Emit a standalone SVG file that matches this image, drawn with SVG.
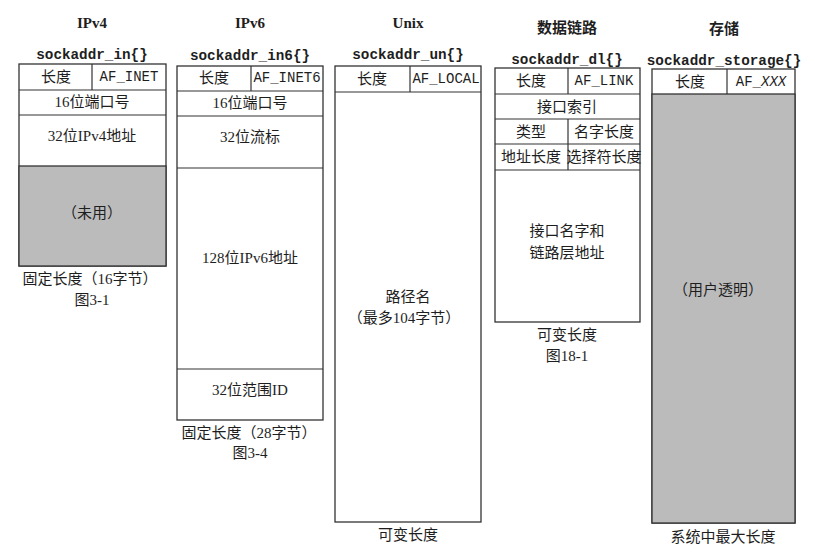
<svg xmlns="http://www.w3.org/2000/svg" width="815" height="560" viewBox="0 0 815 560">
<style>
.box{fill:#ffffff;stroke:#333333;stroke-width:1.3}
.gray{fill:#bbbbbb;stroke:#333333;stroke-width:1.3}
.ln{stroke:#333333;stroke-width:1.2;fill:none}
text{fill:#1e1e1e;text-anchor:middle;dominant-baseline:central}
.t{font-family:"Liberation Serif","Noto Sans CJK SC",serif;font-size:15px}
.h{font-family:"Liberation Serif","Noto Sans CJK SC",serif;font-size:15px;font-weight:bold}
.s{font-family:"Liberation Mono",monospace;font-size:14.3px;font-weight:bold}
.m{font-family:"Liberation Mono",monospace;font-size:14px}
</style>
<rect width="815" height="560" fill="#ffffff"/>

<g id="ipv4">
<text class="h" x="92" y="23">IPv4</text>
<text class="s" x="92" y="55">sockaddr_in{}</text>
<rect class="box" x="19" y="64" width="147" height="202"/>
<rect class="gray" x="19" y="166" width="147" height="100"/>
<line class="ln" x1="19" y1="90" x2="166" y2="90"/>
<line class="ln" x1="19" y1="115" x2="166" y2="115"/>
<line class="ln" x1="92" y1="64" x2="92" y2="90"/>
<text class="t" x="56" y="77">长度</text>
<text class="m" x="129" y="77">AF_INET</text>
<text class="t" x="92" y="102">16位端口号</text>
<text class="t" x="92" y="136">32位IPv4地址</text>
<text class="t" x="92" y="213">（未用）</text>
<text class="t" x="90" y="279">固定长度（16字节）</text>
<text class="t" x="92" y="300">图3-1</text>
</g>

<g id="ipv6">
<text class="h" x="250" y="23">IPv6</text>
<text class="s" x="250" y="56">sockaddr_in6{}</text>
<rect class="box" x="177" y="66" width="146" height="354"/>
<line class="ln" x1="177" y1="91" x2="323" y2="91"/>
<line class="ln" x1="177" y1="116" x2="323" y2="116"/>
<line class="ln" x1="177" y1="168" x2="323" y2="168"/>
<line class="ln" x1="177" y1="369" x2="323" y2="369"/>
<line class="ln" x1="251" y1="66" x2="251" y2="91"/>
<text class="t" x="214" y="78">长度</text>
<text class="m" x="287" y="78">AF_INET6</text>
<text class="t" x="250" y="103">16位端口号</text>
<text class="t" x="250" y="137">32位流标</text>
<text class="t" x="250" y="258">128位IPv6地址</text>
<text class="t" x="250" y="390">32位范围ID</text>
<text class="t" x="249" y="433">固定长度（28字节）</text>
<text class="t" x="250" y="453">图3-4</text>
</g>

<g id="unix">
<text class="h" x="408" y="23">Unix</text>
<text class="s" x="408" y="55">sockaddr_un{}</text>
<rect class="box" x="335" y="66" width="146" height="456"/>
<line class="ln" x1="335" y1="92" x2="481" y2="92"/>
<line class="ln" x1="410" y1="66" x2="410" y2="92"/>
<text class="t" x="372" y="79">长度</text>
<text class="m" x="446" y="79">AF_LOCAL</text>
<text class="t" x="408" y="297">路径名</text>
<text class="t" x="404" y="318">（最多104字节）</text>
<text class="t" x="408" y="535">可变长度</text>
</g>

<g id="datalink">
<text class="h" x="567" y="28">数据链路</text>
<text class="s" x="567" y="60">sockaddr_dl{}</text>
<rect class="box" x="495" y="68" width="145" height="254"/>
<line class="ln" x1="495" y1="94" x2="640" y2="94"/>
<line class="ln" x1="495" y1="119" x2="640" y2="119"/>
<line class="ln" x1="495" y1="144" x2="640" y2="144"/>
<line class="ln" x1="495" y1="170" x2="640" y2="170"/>
<line class="ln" x1="568" y1="68" x2="568" y2="94"/>
<line class="ln" x1="568" y1="119" x2="568" y2="170"/>
<text class="t" x="531" y="81">长度</text>
<text class="m" x="604" y="81">AF_LINK</text>
<text class="t" x="567" y="107">接口索引</text>
<text class="t" x="531" y="132">类型</text>
<text class="t" x="604" y="132">名字长度</text>
<text class="t" x="531" y="157">地址长度</text>
<text class="t" x="604" y="157">选择符长度</text>
<text class="t" x="567" y="231">接口名字和</text>
<text class="t" x="567" y="253">链路层地址</text>
<text class="t" x="567" y="335">可变长度</text>
<text class="t" x="567" y="356">图18-1</text>
</g>

<g id="storage">
<text class="h" x="724" y="29">存储</text>
<text class="s" x="724" y="61">sockaddr_storage{}</text>
<rect class="box" x="652" y="69" width="143" height="454"/>
<rect class="gray" x="652" y="94" width="143" height="429"/>
<line class="ln" x1="727" y1="69" x2="727" y2="94"/>
<text class="t" x="690" y="82">长度</text>
<text class="m" x="761" y="82">AF_<tspan font-style="italic">XXX</tspan></text>
<text class="t" x="718" y="290">（用户透明）</text>
<text class="t" x="723" y="537">系统中最大长度</text>
</g>
</svg>
